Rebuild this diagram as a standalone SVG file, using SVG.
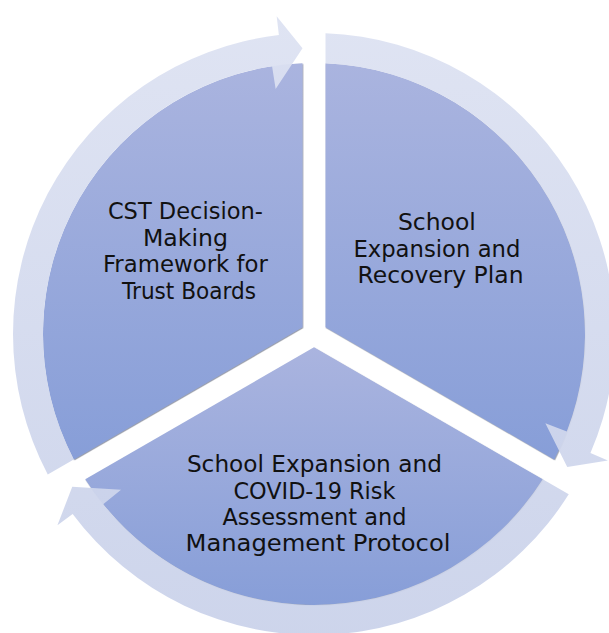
<svg xmlns="http://www.w3.org/2000/svg" width="609" height="633" viewBox="0 0 609 633">
  <defs>
    <linearGradient id="segGrad" x1="0" y1="0" x2="0" y2="1">
      <stop offset="0" stop-color="#aab4df"/>
      <stop offset="1" stop-color="#879ed8"/>
    </linearGradient>
    <linearGradient id="ringGrad" gradientUnits="userSpaceOnUse" x1="0" y1="17" x2="0" y2="633">
      <stop offset="0" stop-color="#dde2f2"/>
      <stop offset="1" stop-color="#cad2ea"/>
    </linearGradient>
    <filter id="edgeShadow" x="-5%" y="-5%" width="110%" height="110%">
      <feDropShadow dx="0.6" dy="0.8" stdDeviation="0.7" flood-color="#343c55" flood-opacity="0.6"/>
    </filter>
  </defs>
  <style>
    .seg { fill: url(#segGrad); filter: url(#edgeShadow); }
    .arrow { fill: url(#ringGrad); fill-opacity: 0.94; }
    .label { font-family: "DejaVu Sans", "Liberation Sans", sans-serif; font-size: 22.7px; fill: #111111; text-anchor: middle; }
  </style>
  <rect width="609" height="633" fill="#ffffff"/>

  <g id="node-framework">
    <path class="seg" d="M302.5 327.36 L73.77 459.41 A271 271 0 0 1 302.5 63.24 Z"/>
    <text class="label">
      <tspan x="189" y="219" textLength="155" lengthAdjust="spacingAndGlyphs">CST Decision-</tspan>
      <tspan x="189" y="245.5" textLength="85" lengthAdjust="spacingAndGlyphs">Making</tspan>
      <tspan x="189" y="272" textLength="165" lengthAdjust="spacingAndGlyphs">Framework for</tspan>
      <tspan x="189" y="298.5" textLength="134" lengthAdjust="spacingAndGlyphs">Trust Boards</tspan>
    </text>
  </g>

  <g id="node-recovery">
    <path class="seg" d="M325.5 327.36 L325.5 63.24 A271 271 0 0 1 554.23 459.41 Z"/>
    <text class="label">
      <tspan x="440.5" y="230" textLength="78" lengthAdjust="spacingAndGlyphs">School</tspan>
      <tspan x="440.5" y="256.7" textLength="167" lengthAdjust="spacingAndGlyphs">Expansion and</tspan>
      <tspan x="440.5" y="283.3" textLength="166" lengthAdjust="spacingAndGlyphs">Recovery Plan</tspan>
    </text>
  </g>

  <g id="node-protocol">
    <path class="seg" d="M314 347.28 L542.74 479.33 A271 271 0 0 1 85.26 479.33 Z"/>
    <text class="label">
      <tspan x="318" y="472" textLength="255" lengthAdjust="spacingAndGlyphs">School Expansion and</tspan>
      <tspan x="318" y="498.5" textLength="162" lengthAdjust="spacingAndGlyphs">COVID-19 Risk</tspan>
      <tspan x="318" y="525" textLength="184" lengthAdjust="spacingAndGlyphs">Assessment and</tspan>
      <tspan x="318" y="551" textLength="265" lengthAdjust="spacingAndGlyphs">Management Protocol</tspan>
    </text>
  </g>

  <g id="connectors">
    <path class="arrow" d="M47.75 474.40 A301 301 0 0 1 278.88 35.06 L276.67 16.19 L302.5 48.23 L275.63 88.99 L272.07 66.26 A271 271 0 0 0 73.77 459.41 Z"/>
    <path class="arrow" d="M325.5 33.22 A301 301 0 0 1 590.45 453.06 L607.90 460.58 L567.23 466.92 L545.37 423.28 L566.83 431.56 A271 271 0 0 0 325.5 63.24 Z"/>
    <path class="arrow" d="M568.74 494.34 A301 301 0 0 1 72.66 513.89 L57.43 525.24 L72.25 486.82 L121.04 489.73 L103.15 504.18 A271 271 0 0 0 542.74 479.33 Z"/>
  </g>
</svg>
